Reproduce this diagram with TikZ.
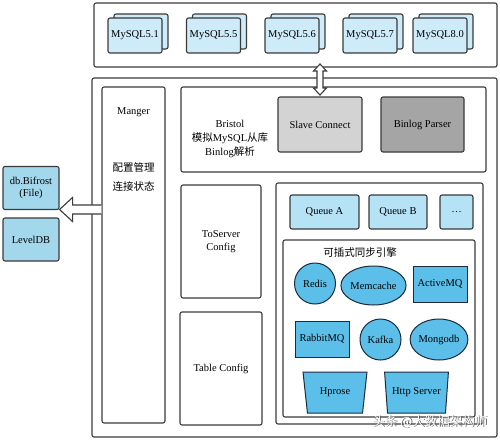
\documentclass[tikz,border=0pt]{standalone}
\usepackage{fontspec}
\setmainfont{Liberation Serif}
\newfontfamily\cjk{Noto Sans CJK SC}
\usetikzlibrary{shapes.geometric}
\definecolor{linec}{HTML}{3A3A3A}
\definecolor{mysqlc}{HTML}{CDEBF8}
\definecolor{queuec}{HTML}{B5E2F5}
\definecolor{dbc}{HTML}{A3D8EC}
\definecolor{engc}{HTML}{5BBFEA}
\definecolor{engline}{HTML}{1C2A3C}
\definecolor{slavec}{HTML}{D3D3D3}
\definecolor{parserc}{HTML}{A5A5A5}
\tikzset{
  box/.style={draw=linec,line width=1.1pt,rounded corners=2pt,inner sep=0pt,font=\fontsize{10.5}{12.5}\selectfont,align=center},
  mysql/.style={box,fill=mysqlc,minimum width=54pt,minimum height=35pt},
  queue/.style={box,fill=queuec,minimum height=34pt},
  dbbox/.style={box,fill=dbc,minimum width=56pt,minimum height=43pt},
  eng/.style={draw=engline,line width=1pt,fill=engc,inner sep=0pt,font=\fontsize{10.5}{12.5}\selectfont},
  trap/.style={eng,trapezium,shape border rotate=180,trapezium stretches=true,trapezium angle=75,minimum width=64pt,minimum height=41pt},
  txt/.style={font=\fontsize{10.5}{12.5}\selectfont,inner sep=0pt,align=center},
  cjktxt/.style={font=\cjk\fontsize{10.5}{12.5}\selectfont,inner sep=0pt,align=center},
  hollow/.style={draw=linec,line width=1.1pt,fill=white,line join=miter}
}
\begin{document}
\begin{tikzpicture}[x=1pt,y=-1pt]
\useasboundingbox (0,0) rectangle (500,439);
% top container
\node[box,minimum width=403pt,minimum height=64pt] (top) at (295.5,35) {};
% MySQL stacked boxes
\foreach \n/\x/\t in {a/135/MySQL5.1,b/213.5/MySQL5.5,c/292/MySQL5.6,d/370/MySQL5.7,e/440/MySQL8.0}{
  \node[mysql] (\n back) at (\x+6,31.5) {};
  \node[mysql] (\n) at (\x,35.5) {\t};
}
% main container
\node[box,minimum width=405pt,minimum height=359pt] (main) at (294.5,257.5) {};
% Manger
\node[box,minimum width=63pt,minimum height=336pt] (manger) at (133.5,255) {};
\node[txt] (mangert) at (133.5,112) {Manger};
\node[cjktxt] (cfg1) at (133.5,167) {配置管理};
\node[cjktxt] (cfg2) at (133.5,186) {连接状态};
% Bristol
\node[box,minimum width=305pt,minimum height=85pt] (bristol) at (333.5,129.5) {};
\node[txt,font=\cjk\fontsize{10.5}{14}\selectfont] (bristolt) at (230,139) {{\fontspec{Liberation Serif}Bristol}\\模拟{\fontspec{Liberation Serif}MySQL}从库\\{\fontspec{Liberation Serif}Binlog}解析};
\node[box,fill=slavec,minimum width=84pt,minimum height=55pt] (slave) at (320,124.5) {Slave Connect};
\node[box,fill=parserc,minimum width=83pt,minimum height=55pt] (parser) at (422.5,124.5) {Binlog Parser};
% ToServer / Table config
\node[box,minimum width=80pt,minimum height=113pt] (toserver) at (221,241.5) {ToServer\\Config};
\node[box,minimum width=82pt,minimum height=113pt] (table) at (221,368.5) {Table Config};
% engine area
\node[box,minimum width=207pt,minimum height=241pt] (enginebox) at (379.5,303.5) {};
\node[queue,minimum width=69pt] (qa) at (324.5,212) {Queue A};
\node[queue,minimum width=58pt] (qb) at (398,212) {Queue B};
\node[queue,minimum width=33pt] (qc) at (456.5,212) {\dots};
\node[box,minimum width=192pt,minimum height=177pt] (plug) at (379,328.5) {};
\node[cjktxt] (plugt) at (360,253) {可插式同步引擎};
\node[eng,circle,minimum size=41pt] (redis) at (315,283.5) {Redis};
\node[eng,ellipse,minimum width=55pt,minimum height=39pt] (memcache) at (373.5,285.5) {Memcache};
\node[eng,rectangle,minimum width=54pt,minimum height=36pt] (activemq) at (440,284) {ActiveMQ};
\node[eng,rectangle,minimum width=54pt,minimum height=36pt] (rabbitmq) at (322,339) {RabbitMQ};
\node[eng,circle,minimum size=41pt] (kafka) at (380.5,339.5) {Kafka};
\node[eng,ellipse,minimum width=54pt,minimum height=41pt] (mongodb) at (439,339.5) {Mongodb};
\node[trap] (hprose) at (335,392.5) {Hprose};
\node[trap] (http) at (416.5,392.5) {Http Server};
% left storage
\node[dbbox] (bifrost) at (31,188) {db.Bifrost\\(File)};
\node[dbbox] (leveldb) at (31,239.5) {LevelDB};
% hollow arrow Manger -> storage
\coordinate (ls) at (manger.west |- 0,209.5);
\coordinate (lt) at (bifrost.east |- 0,209.5);
\draw[hollow] ([yshift=-4.5pt]ls) -- ([xshift=13pt,yshift=-4.5pt]lt) -- ([xshift=13pt,yshift=-12pt]lt) -- (lt)
  -- ([xshift=13pt,yshift=12pt]lt) -- ([xshift=13pt,yshift=4.5pt]lt) -- ([yshift=4.5pt]ls);
% double hollow arrow top <-> slave connect
\coordinate (da) at (320,64);
\coordinate (db) at (320,95);
\draw[hollow] (da) -- ([xshift=6.5pt,yshift=-7pt]da) -- ([xshift=3pt,yshift=-7pt]da) -- ([xshift=3pt,yshift=7pt]db)
  -- ([xshift=6.5pt,yshift=7pt]db) -- (db) -- ([xshift=-6.5pt,yshift=7pt]db) -- ([xshift=-3pt,yshift=7pt]db)
  -- ([xshift=-3pt,yshift=-7pt]da) -- ([xshift=-6.5pt,yshift=-7pt]da) -- cycle;
% watermark
\node[font=\cjk\fontsize{12.5}{14}\selectfont,text=black!70,inner sep=0pt] (wms) at (430.8,422.8) {头条 @大数据架构师};
\node[font=\cjk\fontsize{12.5}{14}\selectfont,text=white,inner sep=0pt] (wm) at (430,422) {头条 @大数据架构师};
\end{tikzpicture}
\end{document}
